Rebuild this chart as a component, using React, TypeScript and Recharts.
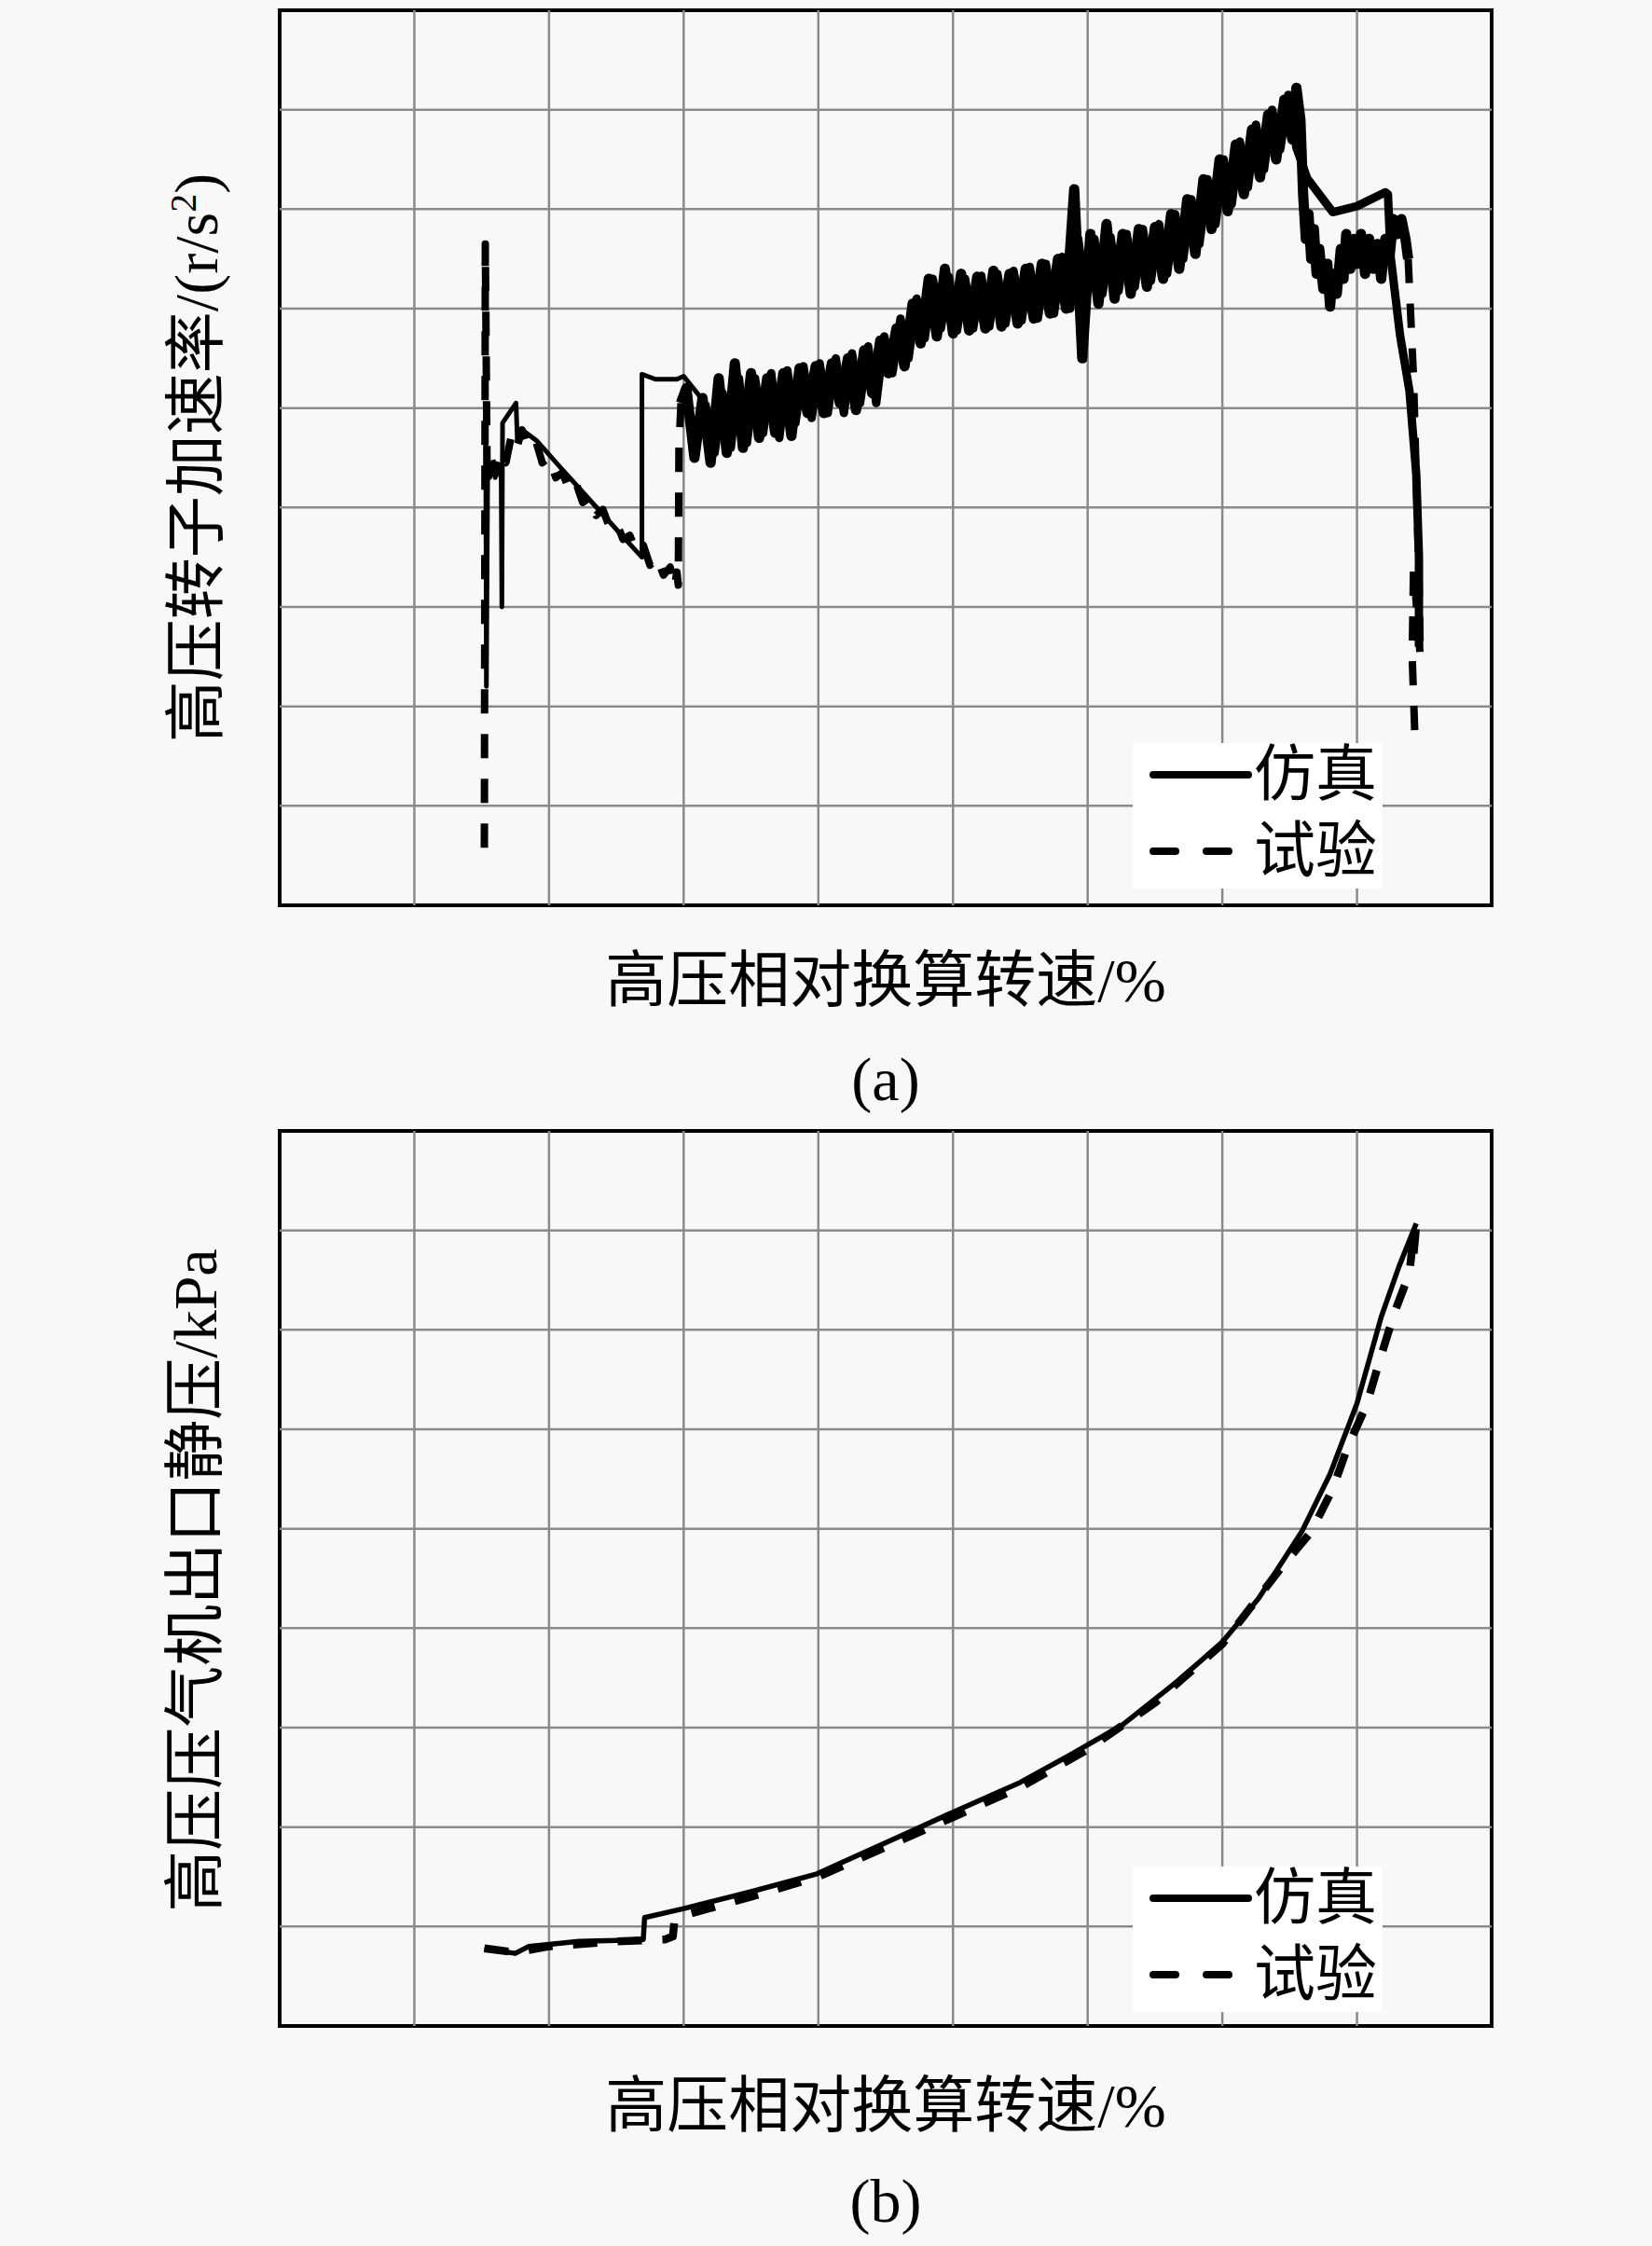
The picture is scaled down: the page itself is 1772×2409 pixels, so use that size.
import { LineChart, Line, XAxis, YAxis, ReferenceLine, ReferenceArea } from 'recharts'

// grid positions (the original figure has no tick labels, 9 x 9 cells)
const gridTicks = [0, 1, 2, 3, 4, 5, 6, 7, 8, 9]

// ---- (a) rotor acceleration ----
const simHeadA: [number, number][] = [
  [1.53, 4.78], [1.535, 2.2], [1.545, 4.5], [1.56, 4.3], [1.58, 4.45], [1.6, 4.3], [1.625, 4.4],
  [1.645, 4.3], [1.65, 3.0], [1.655, 4.85], [1.755, 5.05], [1.765, 4.68], [1.8, 4.78], [1.91, 4.67],
  [2.1, 4.38], [2.3, 4.08], [2.5, 3.78], [2.69, 3.5], [2.69, 5.34], [2.79, 5.29], [2.95, 5.29],
  [3.0, 5.32], [3.16, 5.05],
]

const testHeadA: [number, number][] = [
  [1.52, 0.58], [1.527, 6.65], [1.54, 4.4], [1.56, 4.55], [1.6, 4.35], [1.64, 4.55], [1.68, 4.45],
  [1.72, 4.72], [1.76, 4.6], [1.8, 4.78], [1.84, 4.62], [1.9, 4.68], [1.95, 4.45], [2.0, 4.5],
  [2.05, 4.3], [2.1, 4.35], [2.15, 4.18], [2.2, 4.25], [2.25, 4.05], [2.3, 4.1], [2.35, 3.92],
  [2.4, 3.98], [2.45, 3.8], [2.5, 3.85], [2.55, 3.68], [2.6, 3.72], [2.65, 3.55], [2.7, 3.62],
  [2.75, 3.42], [2.8, 3.5], [2.85, 3.32], [2.9, 3.4], [2.93, 3.2], [2.95, 3.35], [2.96, 3.22],
  [2.965, 4.6], [2.98, 5.05],
]

// noisy middle section of the test trace
const testBandX = [
  3.02, 3.08, 3.14, 3.2, 3.26, 3.32, 3.38, 3.44, 3.5, 3.56, 3.62, 3.68, 3.74, 3.8, 3.86, 3.92,
  3.98, 4.04, 4.1, 4.16, 4.22, 4.28, 4.34, 4.4, 4.46, 4.52, 4.58, 4.64, 4.7, 4.76, 4.82, 4.88,
  4.94, 5.0, 5.06, 5.12, 5.18, 5.24, 5.3, 5.36, 5.42, 5.48, 5.54, 5.6, 5.66, 5.72, 5.78, 5.84,
  5.9, 5.96, 6.02, 6.08, 6.14, 6.2, 6.26, 6.32, 6.38, 6.44, 6.5, 6.56, 6.62, 6.68, 6.74, 6.8,
  6.86, 6.92, 6.98, 7.04, 7.1, 7.16, 7.22, 7.28, 7.34, 7.4, 7.46, 7.52,
]
const testBandA = [
  5.2, 4.5, 5.1, 4.45, 5.3, 4.55, 5.45, 4.6, 5.35, 4.7, 5.3, 4.75, 5.35, 4.72, 5.4, 4.95,
  5.42, 4.95, 5.45, 5.05, 5.5, 4.98, 5.58, 5.15, 5.68, 5.35, 5.8, 5.42, 6.05, 5.65, 6.3, 5.72,
  6.4, 5.75, 6.35, 5.78, 6.32, 5.8, 6.38, 5.82, 6.35, 5.85, 6.4, 5.9, 6.45, 5.95, 6.5, 6.0,
  7.2, 5.5, 6.75, 6.05, 6.85, 6.1, 6.75, 6.15, 6.8, 6.22, 6.82, 6.3, 6.95, 6.4, 7.1, 6.55,
  7.3, 6.8, 7.5, 6.98, 7.65, 7.15, 7.8, 7.32, 7.95, 7.5, 8.1, 7.7,
]

// noisy middle section of the simulation trace
const simBandX = [
  3.23, 3.29, 3.35, 3.41, 3.47, 3.53, 3.59, 3.65, 3.71, 3.77, 3.83, 3.89, 3.95, 4.01, 4.07, 4.13,
  4.19, 4.25, 4.31, 4.37, 4.43, 4.49, 4.55, 4.61, 4.67, 4.73, 4.79, 4.85, 4.91, 4.97, 5.03, 5.09,
  5.15, 5.21, 5.27, 5.33, 5.39, 5.45, 5.51, 5.57, 5.63, 5.69, 5.75, 5.81, 5.87, 5.93, 5.99, 6.05,
  6.11, 6.17, 6.23, 6.29, 6.35, 6.41, 6.47, 6.53, 6.59, 6.65, 6.71, 6.77, 6.83, 6.89, 6.95, 7.01,
  7.07, 7.13, 7.19, 7.25, 7.31, 7.37, 7.43, 7.49,
]
const simBandA = [
  4.55, 5.15, 4.6, 5.3, 4.65, 5.3, 4.75, 5.35, 4.7, 5.38, 4.85, 5.42, 4.9, 5.45, 4.95, 5.5,
  4.95, 5.55, 5.05, 5.62, 5.05, 5.72, 5.35, 5.9, 5.5, 6.1, 5.7, 6.3, 5.8, 6.32, 5.78, 6.3,
  5.8, 6.33, 5.82, 6.35, 5.85, 6.38, 5.88, 6.42, 5.9, 6.45, 5.95, 6.52, 6.0, 6.7, 6.1, 6.7,
  6.15, 6.72, 6.18, 6.75, 6.22, 6.8, 6.28, 6.85, 6.35, 6.95, 6.5, 7.1, 6.65, 7.3, 6.85, 7.5,
  7.05, 7.68, 7.22, 7.85, 7.4, 8.0, 7.6, 8.15,
]

// after the peak: dense noisy part, then the final drop
const testTailA: [number, number][] = [
  [7.55, 8.22], [7.58, 7.9], [7.6, 7.15], [7.62, 6.7], [7.64, 6.95], [7.66, 6.5], [7.68, 6.8],
  [7.7, 6.35], [7.72, 6.6], [7.75, 6.2], [7.78, 6.45], [7.8, 6.02], [7.82, 6.35], [7.85, 6.15],
  [7.88, 6.6], [7.9, 6.3], [7.92, 6.75], [7.95, 6.4], [7.98, 6.7], [8.0, 6.45], [8.03, 6.75],
  [8.06, 6.35], [8.09, 6.7], [8.12, 6.4], [8.15, 6.65], [8.18, 6.3], [8.21, 6.7], [8.24, 6.5],
  [8.27, 6.9], [8.3, 6.75], [8.33, 6.9], [8.36, 6.7], [8.38, 6.5],
]
const testDropA: [number, number][] = [
  [8.38, 6.5], [8.42, 5.3], [8.44, 4.3], [8.46, 3.3], [8.47, 2.5], [8.42, 3.4], [8.41, 2.5],
  [8.43, 1.7],
]

const simTailA: [number, number][] = [
  [7.55, 7.62], [7.63, 7.31], [7.82, 6.97], [8.0, 7.03], [8.21, 7.17], [8.23, 7.15], [8.25, 6.52],
  [8.32, 5.73], [8.39, 5.17], [8.44, 4.34], [8.46, 3.51], [8.46, 2.6],
]

// ---- (b) compressor outlet static pressure ----
const simB: [number, number][] = [
  [1.52, 0.78], [1.6, 0.76], [1.75, 0.73], [1.85, 0.8], [2.0, 0.82], [2.22, 0.85], [2.5, 0.86],
  [2.7, 0.87], [2.71, 1.09], [3.0, 1.18], [3.5, 1.35], [3.99, 1.53], [4.3, 1.72], [4.71, 1.97],
  [5.0, 2.15], [5.5, 2.45], [5.89, 2.74], [6.26, 3.03], [6.67, 3.47], [7.0, 3.86], [7.27, 4.3],
  [7.59, 4.97], [7.8, 5.55], [8.0, 6.26], [8.18, 7.13], [8.31, 7.63], [8.44, 8.07],
]

const testB: [number, number][] = [
  [1.52, 0.78], [1.75, 0.74], [2.0, 0.8], [2.5, 0.85], [2.86, 0.87], [2.92, 0.9], [2.93, 1.04],
  [3.05, 1.13], [3.5, 1.3], [4.0, 1.5], [4.5, 1.8], [5.0, 2.1], [5.5, 2.4], [6.0, 2.78],
  [6.5, 3.25], [7.0, 3.84], [7.45, 4.63], [7.66, 4.97], [7.82, 5.4], [7.93, 5.82], [8.07, 6.24],
  [8.17, 6.7], [8.28, 7.18], [8.39, 7.57], [8.42, 7.97], [8.44, 8.05], [8.41, 7.6],
]

const legendNames = ['仿真', '试验']
const xTitle = '高压相对换算转速/%'

type Pt = { x: number; y: number }
type Series = { data: Pt[]; width: number; dash?: string }

const toPts = (arr: [number, number][]) => arr.map(([x, y]) => ({ x, y }))
const zipPts = (xs: number[], ys: number[]) => xs.map((x, i) => ({ x, y: ys[i] }))
const lastOf = (arr: [number, number][]) => toPts(arr.slice(-1))

const DASH = '26 22'

const seriesA: Series[] = [
  { data: toPts(simHeadA), width: 5 },
  { data: [...lastOf(simHeadA), ...zipPts(simBandX, simBandA), ...toPts(simTailA)], width: 9 },
  { data: toPts(testHeadA), width: 8, dash: DASH },
  { data: [...lastOf(testHeadA), ...zipPts(testBandX, testBandA), ...toPts(testTailA)], width: 11 },
  { data: toPts(testDropA), width: 8, dash: DASH },
]

const seriesB: Series[] = [
  { data: toPts(simB), width: 5.5 },
  { data: toPts(testB), width: 8.5, dash: DASH },
]

const FONT = '"Liberation Serif", "Times New Roman", "Noto Sans CJK SC", serif'

function Panel({ series }: { series: Series[] }) {
  const inner = gridTicks.slice(1, -1)
  return (
    <LineChart width={1772} height={1000} margin={{ top: 11, right: 172, bottom: 29, left: 300 }}>
      <XAxis type="number" dataKey="x" domain={[0, 9]} ticks={gridTicks} tick={false} tickLine={false} axisLine={false} height={0} />
      <YAxis type="number" dataKey="y" domain={[0, 9]} ticks={gridTicks} tick={false} tickLine={false} axisLine={false} width={0} />
      {inner.map((t) => (
        <ReferenceLine key={'v' + t} x={t} stroke="#8a8a8a" strokeWidth={2.5} />
      ))}
      {inner.map((t) => (
        <ReferenceLine key={'h' + t} y={t} stroke="#8a8a8a" strokeWidth={2.5} />
      ))}
      <ReferenceArea x1={0} x2={9} y1={0} y2={9} fill="none" stroke="#000" strokeWidth={4} />
      {series.map((s, i) => (
        <Line key={i} data={s.data} dataKey="y" type="linear" stroke="#000" strokeWidth={s.width}
          strokeDasharray={s.dash} strokeLinejoin="round" dot={false} isAnimationActive={false} />
      ))}
    </LineChart>
  )
}

function LegendBox({ top }: { top: number }) {
  return (
    <div style={{ position: 'absolute', left: 1215, top, width: 268, height: 156, background: '#fff' }}>
      {legendNames.map((name, i) => (
        <div key={name} style={{ position: 'absolute', left: 0, top: i * 82, height: 68, width: 268 }}>
          <svg width={110} height={68} style={{ position: 'absolute', left: 18, top: 0 }}>
            <line x1={4} x2={106} y1={34} y2={34} stroke="#000" strokeWidth={8} strokeLinecap="round"
              strokeDasharray={i === 1 ? '24 33' : undefined} />
          </svg>
          <span style={{ position: 'absolute', left: 130, top: 0, fontSize: 66, lineHeight: '68px', whiteSpace: 'nowrap' }}>
            {name}
          </span>
        </div>
      ))}
    </div>
  )
}

function YTitle({ cy, children }: { cy: number; children: React.ReactNode }) {
  return (
    <div style={{
      position: 'absolute', left: 210, top: cy, transform: 'translate(-50%, -50%) rotate(-90deg)',
      fontSize: 66, lineHeight: 1, whiteSpace: 'nowrap',
    }}>
      {children}
    </div>
  )
}

function CenterText({ cy, text }: { cy: number; text: string }) {
  return (
    <div style={{
      position: 'absolute', left: 950, top: cy, transform: 'translate(-50%, -50%)',
      fontSize: 66, lineHeight: 1, whiteSpace: 'nowrap',
    }}>
      {text}
    </div>
  )
}

export default function App() {
  return (
    <div style={{ position: 'absolute', left: 0, top: 0, width: 1772, height: 2409, background: '#f8f8f8', fontFamily: FONT, color: '#000' }}>
      <div style={{ position: 'absolute', left: 0, top: 0 }}>
        <Panel series={seriesA} />
      </div>
      <LegendBox top={797} />
      <YTitle cy={491}>高压转子加速率/(r/s<sup style={{ fontSize: 40 }}>2</sup>)</YTitle>
      <CenterText cy={1052} text={xTitle} />
      <CenterText cy={1158} text="(a)" />

      <div style={{ position: 'absolute', left: 0, top: 1202 }}>
        <Panel series={seriesB} />
      </div>
      <LegendBox top={2002} />
      <YTitle cy={1695}>高压压气机出口静压/kPa</YTitle>
      <CenterText cy={2259} text={xTitle} />
      <CenterText cy={2361} text="(b)" />
    </div>
  )
}
